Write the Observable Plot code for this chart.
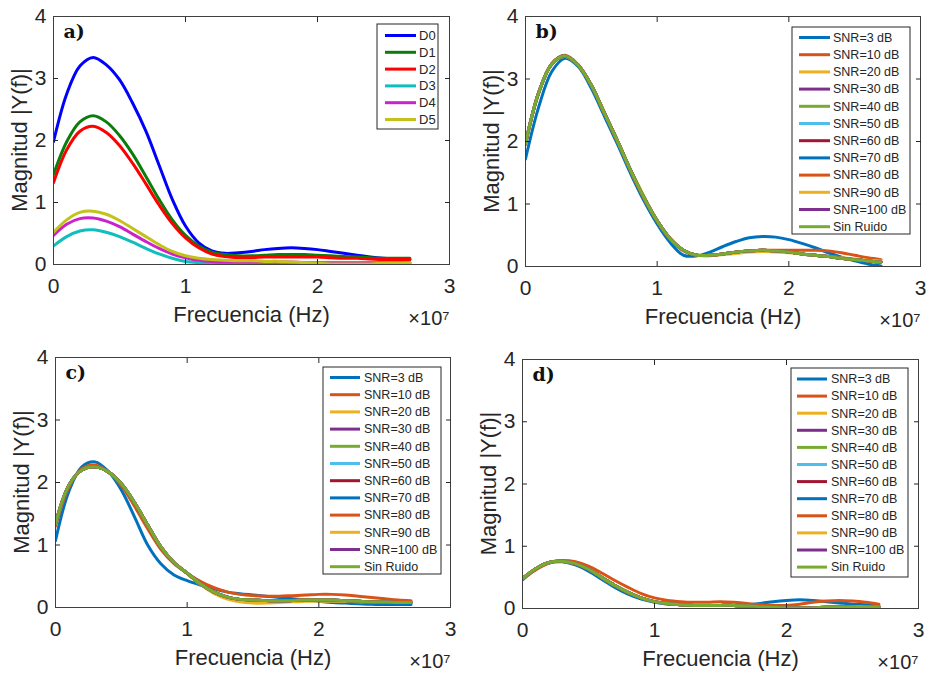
<!DOCTYPE html>
<html><head><meta charset="utf-8">
<script src="https://cdn.jsdelivr.net/npm/d3@7"></script>
<script src="https://cdn.jsdelivr.net/npm/@observablehq/plot@0.6"></script>
<style>
body{margin:0;background:#fff;}
#chart{position:relative;width:928px;height:675px;background:#fff;overflow:hidden;}
.panel{position:absolute;}
</style></head><body><div id="chart"></div>
<script>
// Frequency axis, in units of 1e7 Hz
const freq = [0,0.1,0.2,0.3,0.4,0.5,0.6,0.7,0.8,0.9,1.0,1.1,1.2,1.3,1.4,1.5,1.6,1.7,1.8,1.9,2.0,2.1,2.2,2.3,2.4,2.5,2.6,2.7];
const xTicks = [0,1,2,3];
const yTicks = [0,1,2,3,4];

// Panel a) – D0..D5
const aNames = ["D0","D1","D2","D3","D4","D5"];
const aColors = ["#0000ff","#0b7d0b","#ff0000","#11bdbd","#cc22cc","#c2c21a"];
const a_D0 = [1.98,2.75,3.2,3.34,3.22,2.98,2.6,2.15,1.6,1.05,0.62,0.35,0.22,0.18,0.19,0.21,0.24,0.26,0.27,0.26,0.24,0.21,0.18,0.15,0.12,0.1,0.09,0.08];
const a_D1 = [1.45,1.98,2.3,2.4,2.3,2.08,1.78,1.42,1.05,0.72,0.47,0.3,0.2,0.16,0.14,0.14,0.15,0.16,0.16,0.16,0.15,0.14,0.13,0.12,0.11,0.1,0.1,0.1];
const a_D2 = [1.32,1.85,2.15,2.23,2.13,1.92,1.63,1.3,0.96,0.66,0.43,0.27,0.17,0.13,0.11,0.11,0.12,0.12,0.12,0.12,0.12,0.11,0.1,0.1,0.09,0.08,0.08,0.08];
const a_D3 = [0.3,0.45,0.54,0.56,0.52,0.45,0.36,0.26,0.17,0.1,0.05,0.03,0.02,0.02,0.02,0.02,0.02,0.02,0.02,0.02,0.02,0.02,0.02,0.02,0.02,0.02,0.02,0.02];
const a_D4 = [0.47,0.65,0.74,0.75,0.7,0.61,0.49,0.37,0.26,0.17,0.11,0.07,0.05,0.04,0.04,0.04,0.04,0.04,0.04,0.03,0.03,0.03,0.03,0.03,0.03,0.03,0.03,0.03];
const a_D5 = [0.52,0.72,0.84,0.86,0.81,0.71,0.58,0.45,0.32,0.21,0.14,0.1,0.08,0.07,0.06,0.06,0.05,0.05,0.04,0.03,0.02,0.01,0.01,0.01,0.01,0.02,0.02,0.03];

// Panels b) c) d) – SNR series
const snrNames = ["SNR=3 dB","SNR=10 dB","SNR=20 dB","SNR=30 dB","SNR=40 dB","SNR=50 dB","SNR=60 dB","SNR=70 dB","SNR=80 dB","SNR=90 dB","SNR=100 dB","Sin Ruido"];
const snrColors = ["#0072bd","#d95319","#edb120","#7e2f8e","#77ac30","#4dbeee","#a2142f","#0072bd","#d95319","#edb120","#7e2f8e","#77ac30"];

const b_snr3  = [1.72,2.55,3.12,3.33,3.2,2.85,2.4,1.95,1.48,1.05,0.68,0.38,0.18,0.17,0.23,0.32,0.4,0.46,0.48,0.47,0.43,0.37,0.3,0.22,0.15,0.09,0.04,0.01];
const b_snr10 = [1.95,2.78,3.25,3.38,3.23,2.9,2.46,2.0,1.53,1.1,0.73,0.44,0.25,0.18,0.18,0.2,0.23,0.25,0.26,0.26,0.26,0.26,0.26,0.25,0.22,0.18,0.14,0.11];
const b_snr20 = [1.97,2.78,3.24,3.36,3.22,2.9,2.46,2.01,1.54,1.12,0.74,0.45,0.26,0.18,0.17,0.19,0.21,0.23,0.24,0.23,0.22,0.2,0.18,0.16,0.14,0.12,0.1,0.09];
const b_clean = [1.97,2.78,3.24,3.37,3.22,2.9,2.45,2.0,1.53,1.1,0.73,0.44,0.26,0.18,0.18,0.2,0.23,0.25,0.26,0.25,0.23,0.2,0.18,0.16,0.13,0.11,0.09,0.07];

const c_snr3  = [1.07,1.85,2.25,2.33,2.18,1.88,1.45,1.0,0.7,0.52,0.43,0.36,0.3,0.25,0.22,0.2,0.18,0.16,0.14,0.12,0.1,0.08,0.07,0.06,0.05,0.05,0.05,0.05];
const c_snr10 = [1.3,1.92,2.22,2.28,2.17,1.95,1.62,1.26,0.93,0.7,0.55,0.42,0.32,0.25,0.21,0.19,0.18,0.18,0.19,0.2,0.21,0.21,0.2,0.18,0.16,0.14,0.12,0.11];
const c_snr20 = [1.34,1.95,2.2,2.25,2.17,1.98,1.68,1.32,0.97,0.72,0.54,0.37,0.23,0.14,0.09,0.07,0.07,0.08,0.09,0.1,0.1,0.1,0.1,0.09,0.09,0.08,0.08,0.08];
const c_clean = [1.34,1.95,2.2,2.25,2.17,1.98,1.68,1.32,0.97,0.72,0.55,0.38,0.25,0.17,0.13,0.12,0.11,0.11,0.11,0.12,0.12,0.12,0.11,0.1,0.09,0.09,0.08,0.08];

const d_snr3  = [0.46,0.63,0.73,0.75,0.7,0.6,0.47,0.34,0.23,0.15,0.1,0.07,0.06,0.05,0.05,0.05,0.05,0.06,0.08,0.11,0.13,0.14,0.13,0.11,0.09,0.07,0.06,0.05];
const d_snr10 = [0.47,0.62,0.73,0.77,0.75,0.68,0.57,0.45,0.34,0.24,0.17,0.13,0.11,0.1,0.1,0.11,0.1,0.08,0.06,0.05,0.05,0.07,0.1,0.12,0.13,0.12,0.1,0.07];
const d_clean = [0.48,0.64,0.74,0.76,0.72,0.63,0.5,0.37,0.26,0.17,0.11,0.08,0.06,0.05,0.05,0.05,0.05,0.04,0.03,0.02,0.01,0.01,0.01,0.02,0.02,0.03,0.03,0.03];

function snrSeries(s3, s10, s20, clean) {
  const vals = [s3, s10, s20, clean, clean, clean, clean, clean, clean, clean, clean, clean];
  return snrNames.map((n, i) => ({name: n, color: snrColors[i], values: vals[i]}));
}
const aSeries = [a_D0,a_D1,a_D2,a_D3,a_D4,a_D5].map((v,i)=>({name:aNames[i], color:aColors[i], values:v}));

const panels = [
  {id:"a", left:0, top:0, w:464, h:337, m:{l:53,r:15,t:16,b:73}, series:aSeries,
   lg:{x:377,y:24,w:61,h:105,row0:35.5,step:16.8,lx1:385,lx2:416,tx:419,fs:13}},
  {id:"b", left:464, top:0, w:464, h:337, m:{l:61,r:8,t:16,b:71}, series:snrSeries(b_snr3,b_snr10,b_snr20,b_clean),
   lg:{x:328,y:27,w:118,h:207,row0:37.5,step:17.2,lx1:335,lx2:366,tx:369,fs:12.5}},
  {id:"c", left:0, top:337, w:464, h:338, m:{l:55,r:14,t:20,b:68}, series:snrSeries(c_snr3,c_snr10,c_snr20,c_clean),
   lg:{x:323,y:30,w:118,h:207,row0:40.5,step:17.2,lx1:330,lx2:360,tx:364,fs:12.5}},
  {id:"d", left:464, top:337, w:464, h:338, m:{l:58,r:10,t:22,b:67}, series:snrSeries(d_snr3,d_snr10,d_clean,d_clean),
   lg:{x:327,y:31,w:117,h:209,row0:42,step:17.1,lx1:333,lx2:363,tx:367,fs:12.5}}
];

const chart = document.getElementById("chart");
const FONT = "'Liberation Sans', Arial, Helvetica, sans-serif";
const intFmt = d3.format("d");

for (const p of panels) {
  const data = p.series.flatMap(s => freq.map((f, i) => ({x: f, y: s.values[i], name: s.name})));
  const svg = Plot.plot({
    width: p.w, height: p.h,
    marginLeft: p.m.l, marginRight: p.m.r, marginTop: p.m.t, marginBottom: p.m.b,
    style: {fontFamily: FONT, fontSize: "21px", color: "#262626", background: "#fff", overflow: "visible"},
    x: {domain: [0, 3], label: null},
    y: {domain: [0, 4], label: null},
    color: {domain: p.series.map(s => s.name), range: p.series.map(s => s.color)},
    marks: [
      Plot.line(data, {x: "x", y: "y", z: "name", stroke: "name", strokeWidth: 3, curve: "catmull-rom", clip: true}),
      Plot.frame({stroke: "#404040", strokeWidth: 1}),
      Plot.axisX({anchor: "bottom", ticks: xTicks, tickFormat: intFmt, tickSize: 0, tickPadding: 14, label: null}),
      Plot.axisX({anchor: "bottom", ticks: [1,2], tickSize: -5, tickFormat: () => "", label: null}),
      Plot.axisX({anchor: "top", ticks: [1,2], tickSize: -5, tickFormat: () => "", label: null}),
      Plot.axisY({anchor: "left", ticks: yTicks, tickFormat: intFmt, tickSize: 0, tickPadding: 7, label: null}),
      Plot.axisY({anchor: "left", ticks: [1,2,3], tickSize: -5, tickFormat: () => "", label: null}),
      Plot.axisY({anchor: "right", ticks: [1,2,3], tickSize: -5, tickFormat: () => "", label: null}),
      Plot.text(["Frecuencia (Hz)"], {text: d => d, frameAnchor: "bottom", dy: 57, lineAnchor: "bottom", fontSize: 22, fill: "#262626"}),
      Plot.text(["×10⁷"], {text: d => d, frameAnchor: "bottom-right", textAnchor: "end", dy: 60, lineAnchor: "bottom", fontSize: 20, fill: "#262626"}),
      Plot.text([p.id + ")"], {text: d => d, frameAnchor: "top-left", textAnchor: "start", lineAnchor: "bottom", dx: 10, dy: 21, fontFamily: "'DejaVu Serif', serif", fontWeight: "bold", fontSize: 19, fill: "#111"})
    ]
  });
  const root = d3.select(svg);
  // y-axis title
  const cy = p.m.t + (p.h - p.m.t - p.m.b) / 2;
  root.append("text")
    .attr("transform", `translate(${p.m.l - 34},${cy}) rotate(-90)`)
    .attr("text-anchor", "middle").attr("dy", "0.35em")
    .attr("font-family", FONT).attr("font-size", 22).attr("fill", "#262626")
    .text("Magnitud |Y(f)|");
  // legend box
  const lg = p.lg;
  const g = root.append("g").attr("class", "legend").attr("text-anchor", "start");
  g.append("rect").attr("x", lg.x).attr("y", lg.y).attr("width", lg.w).attr("height", lg.h)
    .attr("fill", "#fff").attr("stroke", "#262626").attr("stroke-width", 1);
  p.series.forEach((s, i) => {
    const ry = lg.row0 + i * lg.step;
    g.append("line").attr("x1", lg.lx1).attr("x2", lg.lx2).attr("y1", ry).attr("y2", ry)
      .attr("stroke", s.color).attr("stroke-width", 3);
    g.append("text").attr("x", lg.tx).attr("y", ry).attr("dy", "0.35em").attr("text-anchor", "start")
      .attr("font-family", FONT).attr("font-size", lg.fs).attr("fill", "#262626").text(s.name);
  });
  const div = document.createElement("div");
  div.className = "panel";
  div.style.left = p.left + "px";
  div.style.top = p.top + "px";
  div.appendChild(svg);
  chart.appendChild(div);
}
</script>
</body></html>
